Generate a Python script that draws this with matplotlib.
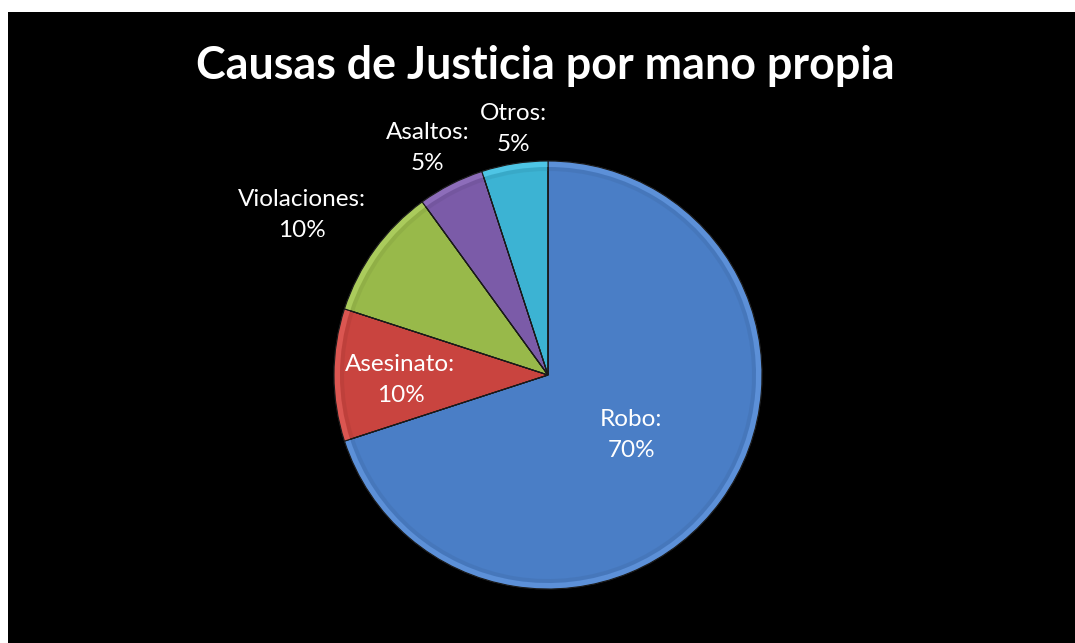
import numpy as np
import matplotlib
matplotlib.use("Agg")
import matplotlib.pyplot as plt

# datos del gráfico
categorias = ["Robo", "Asesinato", "Violaciones", "Asaltos", "Otros"]
porcentajes = [70, 10, 10, 5, 5]
colores = ["#4a7ec6", "#c9443f", "#98b94a", "#7b5ba8", "#3cb3d3"]
titulo = "Causas de Justicia por mano propia"

# posición de cada etiqueta (radio relativo y ajuste de ángulo)
radio_etiqueta = [0.48, 0.69, 1.37, 1.20, 1.16]
ajuste_angulo = [0, 2, 3, 1, -1]

plt.rcParams['font.family'] = ['Lato', 'DejaVu Sans']

fig = plt.figure(figsize=(10.75, 6.43), dpi=100)
fig.patch.set_facecolor("white")
ax = fig.add_axes([8 / 1075, 0, 1 - 8 / 1075, 1 - 12 / 643])
ax.set_facecolor("black")

cx, cy = 548, 643 - 375
radio = 214

wedges, _ = ax.pie(porcentajes, colors=colores, startangle=90, counterclock=False,
                   radius=radio, center=(cx, cy), frame=True,
                   wedgeprops=dict(edgecolor="#1a1a1a", linewidth=0.8))
# ejes en coordenadas de pixeles para que el círculo sea redondo
ax.set_xlim(8, 1075)
ax.set_ylim(0, 643 - 12)
ax.set_aspect("equal")
ax.set_xticks([])
ax.set_yticks([])
for s in ax.spines.values():
    s.set_visible(False)

# efecto de bisel suave en el borde
for w, c in zip(wedges, colores):
    base = np.array(matplotlib.colors.to_rgb(c))
    claro = np.clip(base + 0.07, 0, 1)
    oscuro = base * 0.8
    ax.add_patch(matplotlib.patches.Wedge((cx, cy), radio, w.theta1, w.theta2,
                                          width=6, facecolor=claro, edgecolor="none"))
    ax.add_patch(matplotlib.patches.Wedge((cx, cy), radio - 6, w.theta1, w.theta2,
                                          width=4, facecolor=oscuro, alpha=0.25,
                                          edgecolor="none"))
    ax.add_patch(matplotlib.patches.Wedge((cx, cy), radio, w.theta1, w.theta2,
                                          facecolor="none", edgecolor="#1a1a1a",
                                          linewidth=0.8))

# etiquetas
for w, cat, p, r, da in zip(wedges, categorias, porcentajes, radio_etiqueta, ajuste_angulo):
    ang = np.deg2rad((w.theta1 + w.theta2) / 2 + da)
    x = cx + r * radio * np.cos(ang)
    y = cy + r * radio * np.sin(ang)
    ax.text(x, y, f"{cat}:\n{p}%", color="white", fontsize=17.5,
            ha="center", va="center", linespacing=1.6)

fig.text(545 / 1075, 1 - 66 / 643, titulo, color="white", fontsize=32.3,
         fontweight="bold", ha="center", va="center")

fig.savefig("out.png", dpi=100, facecolor=fig.get_facecolor())
